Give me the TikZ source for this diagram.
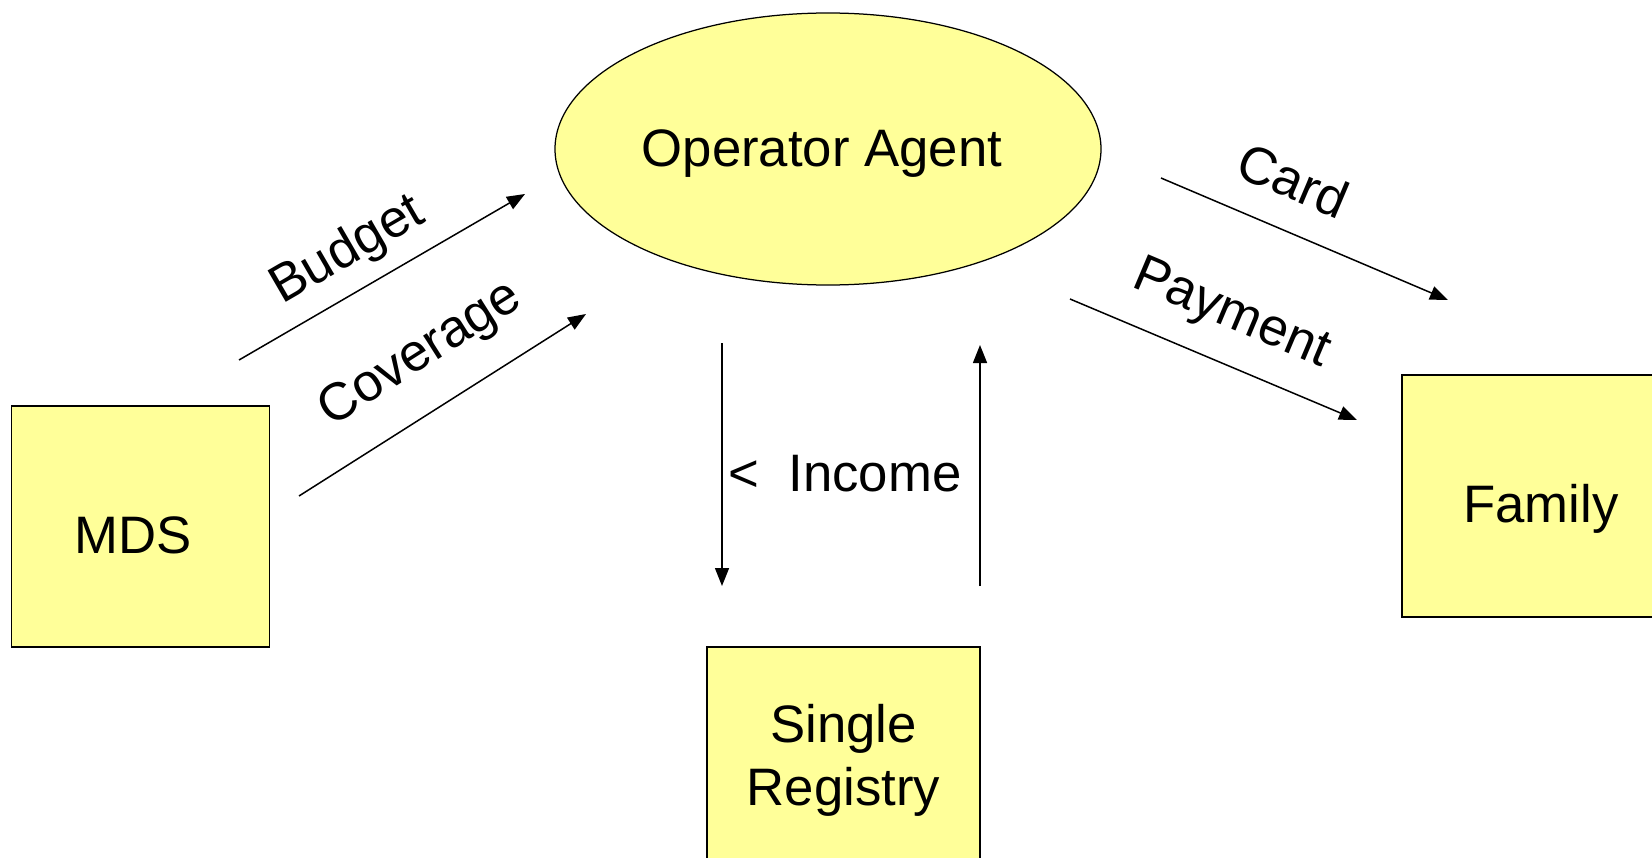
\documentclass[tikz,border=0pt]{standalone}
\usepackage{fontspec}
\setmainfont{Liberation Sans}
\usetikzlibrary{arrows.meta,shapes.geometric}
\definecolor{padyellow}{RGB}{255,255,153}
\tikzset{
    %Define standard arrow tip
    >={Triangle[length=3.6mm,width=2.8mm]},
    %Define style for the boxes
    actor/.style={
           rectangle,
           draw=black, line width=0.3mm,
           fill=padyellow,
           inner sep=0pt,
           align=center,
           font=\fontsize{30}{36}\selectfont},
    %Define style for the agent
    agent/.style={
           ellipse,
           draw=black, line width=0.25mm,
           fill=padyellow,
           inner sep=0pt,
           minimum width=109.2mm,
           minimum height=54.4mm},
    % Define arrow style
    flow/.style={
           ->,
           line width=0.3mm},
    % Define label style
    tag/.style={
           inner sep=0pt,
           font=\fontsize{30}{36}\selectfont}
}

\begin{document}
\begin{tikzpicture}[x=0.2mm, y=-0.2mm]
\useasboundingbox (0,0) rectangle (1652,857);
\clip (0,0) rectangle (1652,857);

% boxes
\node[agent] (operator) at (828,149) {};
\node[tag] (operatortxt) at (822,154) {Operator Agent};
\node[actor, minimum width=51.6mm, minimum height=48.2mm, text height=10.8mm] (mds) at (140.6,526.3) {MDS\hspace*{3mm}};
\node[actor, minimum width=55.6mm, minimum height=48.4mm, text height=12.9mm] (family) at (1541,496) {Family};
\node[actor, minimum width=54.6mm, minimum height=45.2mm] (registry) at (843.5,760) {Single\\Registry};

% arrow ends
\coordinate (b1) at (239,360);
\coordinate (b2) at (525,194);
\coordinate (c1) at (299,496);
\coordinate (c2) at (586,314);
\coordinate (k1) at (1161,178);
\coordinate (k2) at (1448,300);
\coordinate (p1) at (1070,299);
\coordinate (p2) at (1357,420);
\coordinate (d1) at (722,343);
\coordinate (d2) at (722,586);
\coordinate (u1) at (980,586);
\coordinate (u2) at (980,345);

\draw[flow] (b1) -- (b2);
\draw[flow] (c1) -- (c2);
\draw[flow] (k1) -- (k2);
\draw[flow] (p1) -- (p2);
\draw[flow] (d1) -- (d2);
\draw[flow] (u1) -- (u2);

% labels
\node[tag, rotate=30.1] (budget) at (348,251) {Budget};
\node[tag, rotate=32.4] (coverage) at (421,355) {Coverage};
\node[tag, rotate=-23] (card) at (1293,180) {Card};
\node[tag, rotate=-22.9] (payment) at (1231,315) {Payment};
\node[tag] (income) at (845,474) {<\ \ Income};
\end{tikzpicture}
\end{document}
